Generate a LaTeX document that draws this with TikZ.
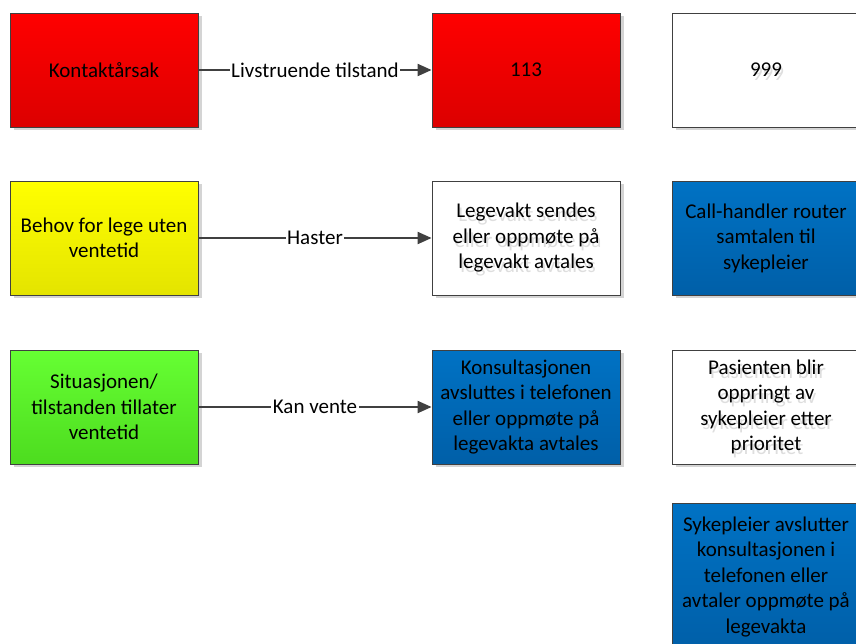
\documentclass[tikz,border=0pt]{standalone}
\usepackage{fontspec}
\setmainfont{Carlito}
\usetikzlibrary{arrows.meta,shadows,calc}

\definecolor{edgegray}{HTML}{404040}
\definecolor{shadowgray}{HTML}{D4D4D4}
\definecolor{ghostgray}{HTML}{DEDEDE}
\definecolor{redtop}{HTML}{FF0000}
\definecolor{redbot}{HTML}{DC0000}
\definecolor{yeltop}{HTML}{FFFF00}
\definecolor{yelbot}{HTML}{E4E400}
\definecolor{grntop}{HTML}{66FF33}
\definecolor{grnbot}{HTML}{4DDC1F}
\definecolor{blutop}{HTML}{0072C4}
\definecolor{blubot}{HTML}{005FA8}

\tikzset{
  txt/.style={align=center, font=\fontsize{21}{25.5}\selectfont, inner sep=0pt},
  box/.style={draw=edgegray, line width=0.8pt, minimum width=188pt, minimum height=114pt,
    inner sep=0pt, txt,
    drop shadow={shadow xshift=4pt, shadow yshift=-3pt, fill=shadowgray, opacity=1}},
  redbox/.style={box, top color=redtop, bottom color=redbot},
  yelbox/.style={box, top color=yeltop, bottom color=yelbot},
  grnbox/.style={box, top color=grntop, bottom color=grnbot},
  blubox/.style={box, top color=blutop, bottom color=blubot},
  whitebox/.style={box, fill=white,
    path picture={\node[txt, text=ghostgray] at ([xshift=2pt,yshift=-4pt]path picture bounding box.center) {#1};}},
  conn/.style={draw=edgegray, line width=2pt, -{Triangle[length=14pt,width=12pt]}},
  lab/.style={fill=white, inner sep=1.5pt, font=\fontsize{21}{25.5}\selectfont}
}

\begin{document}
\begin{tikzpicture}[x=1pt,y=-1pt]
\useasboundingbox (0,0) rectangle (856,643);
\clip (0,0) rectangle (856,643);

% left column: reasons for contact
\node[redbox] (reason) at (104,70) {Kontaktårsak};
\node[yelbox] (urgent) at (104,238) {Behov for lege uten\\ventetid};
\node[grnbox] (wait) at (104,407) {Situasjonen/\\tilstanden tillater\\ventetid};

% middle column: responses
\node[redbox] (emerg) at (526,70) {113};
\node[whitebox={Legevakt sendes\\eller oppmøte på\\legevakt avtales}] (sent) at (526,238)
  {Legevakt sendes\\eller oppmøte på\\legevakt avtales};
\node[blubox] (phone) at (526,407) {Konsultasjonen\\avsluttes i telefonen\\eller oppmøte på\\legevakta avtales};

% right column: 999 route
\node[whitebox={999}] (nine) at (766,70) {999};
\node[blubox] (router) at (766,238) {Call-handler router\\samtalen til\\sykepleier};
\node[whitebox={Pasienten blir\\oppringt av\\sykepleier etter\\prioritet}] (callback) at (766,407)
  {Pasienten blir\\oppringt av\\sykepleier etter\\prioritet};
\node[blubox, minimum height=148pt] (nurse) at (766,577)
  {Sykepleier avslutter\\konsultasjonen i\\telefonen eller\\avtaler oppmøte på\\legevakta};

% connectors
\draw[conn] (reason) -- node[lab] (l1) {Livstruende tilstand} (emerg);
\draw[conn] (urgent) -- node[lab] (l2) {Haster} (sent);
\draw[conn] (wait) -- node[lab] (l3) {Kan vente} (phone);
\end{tikzpicture}
\end{document}
